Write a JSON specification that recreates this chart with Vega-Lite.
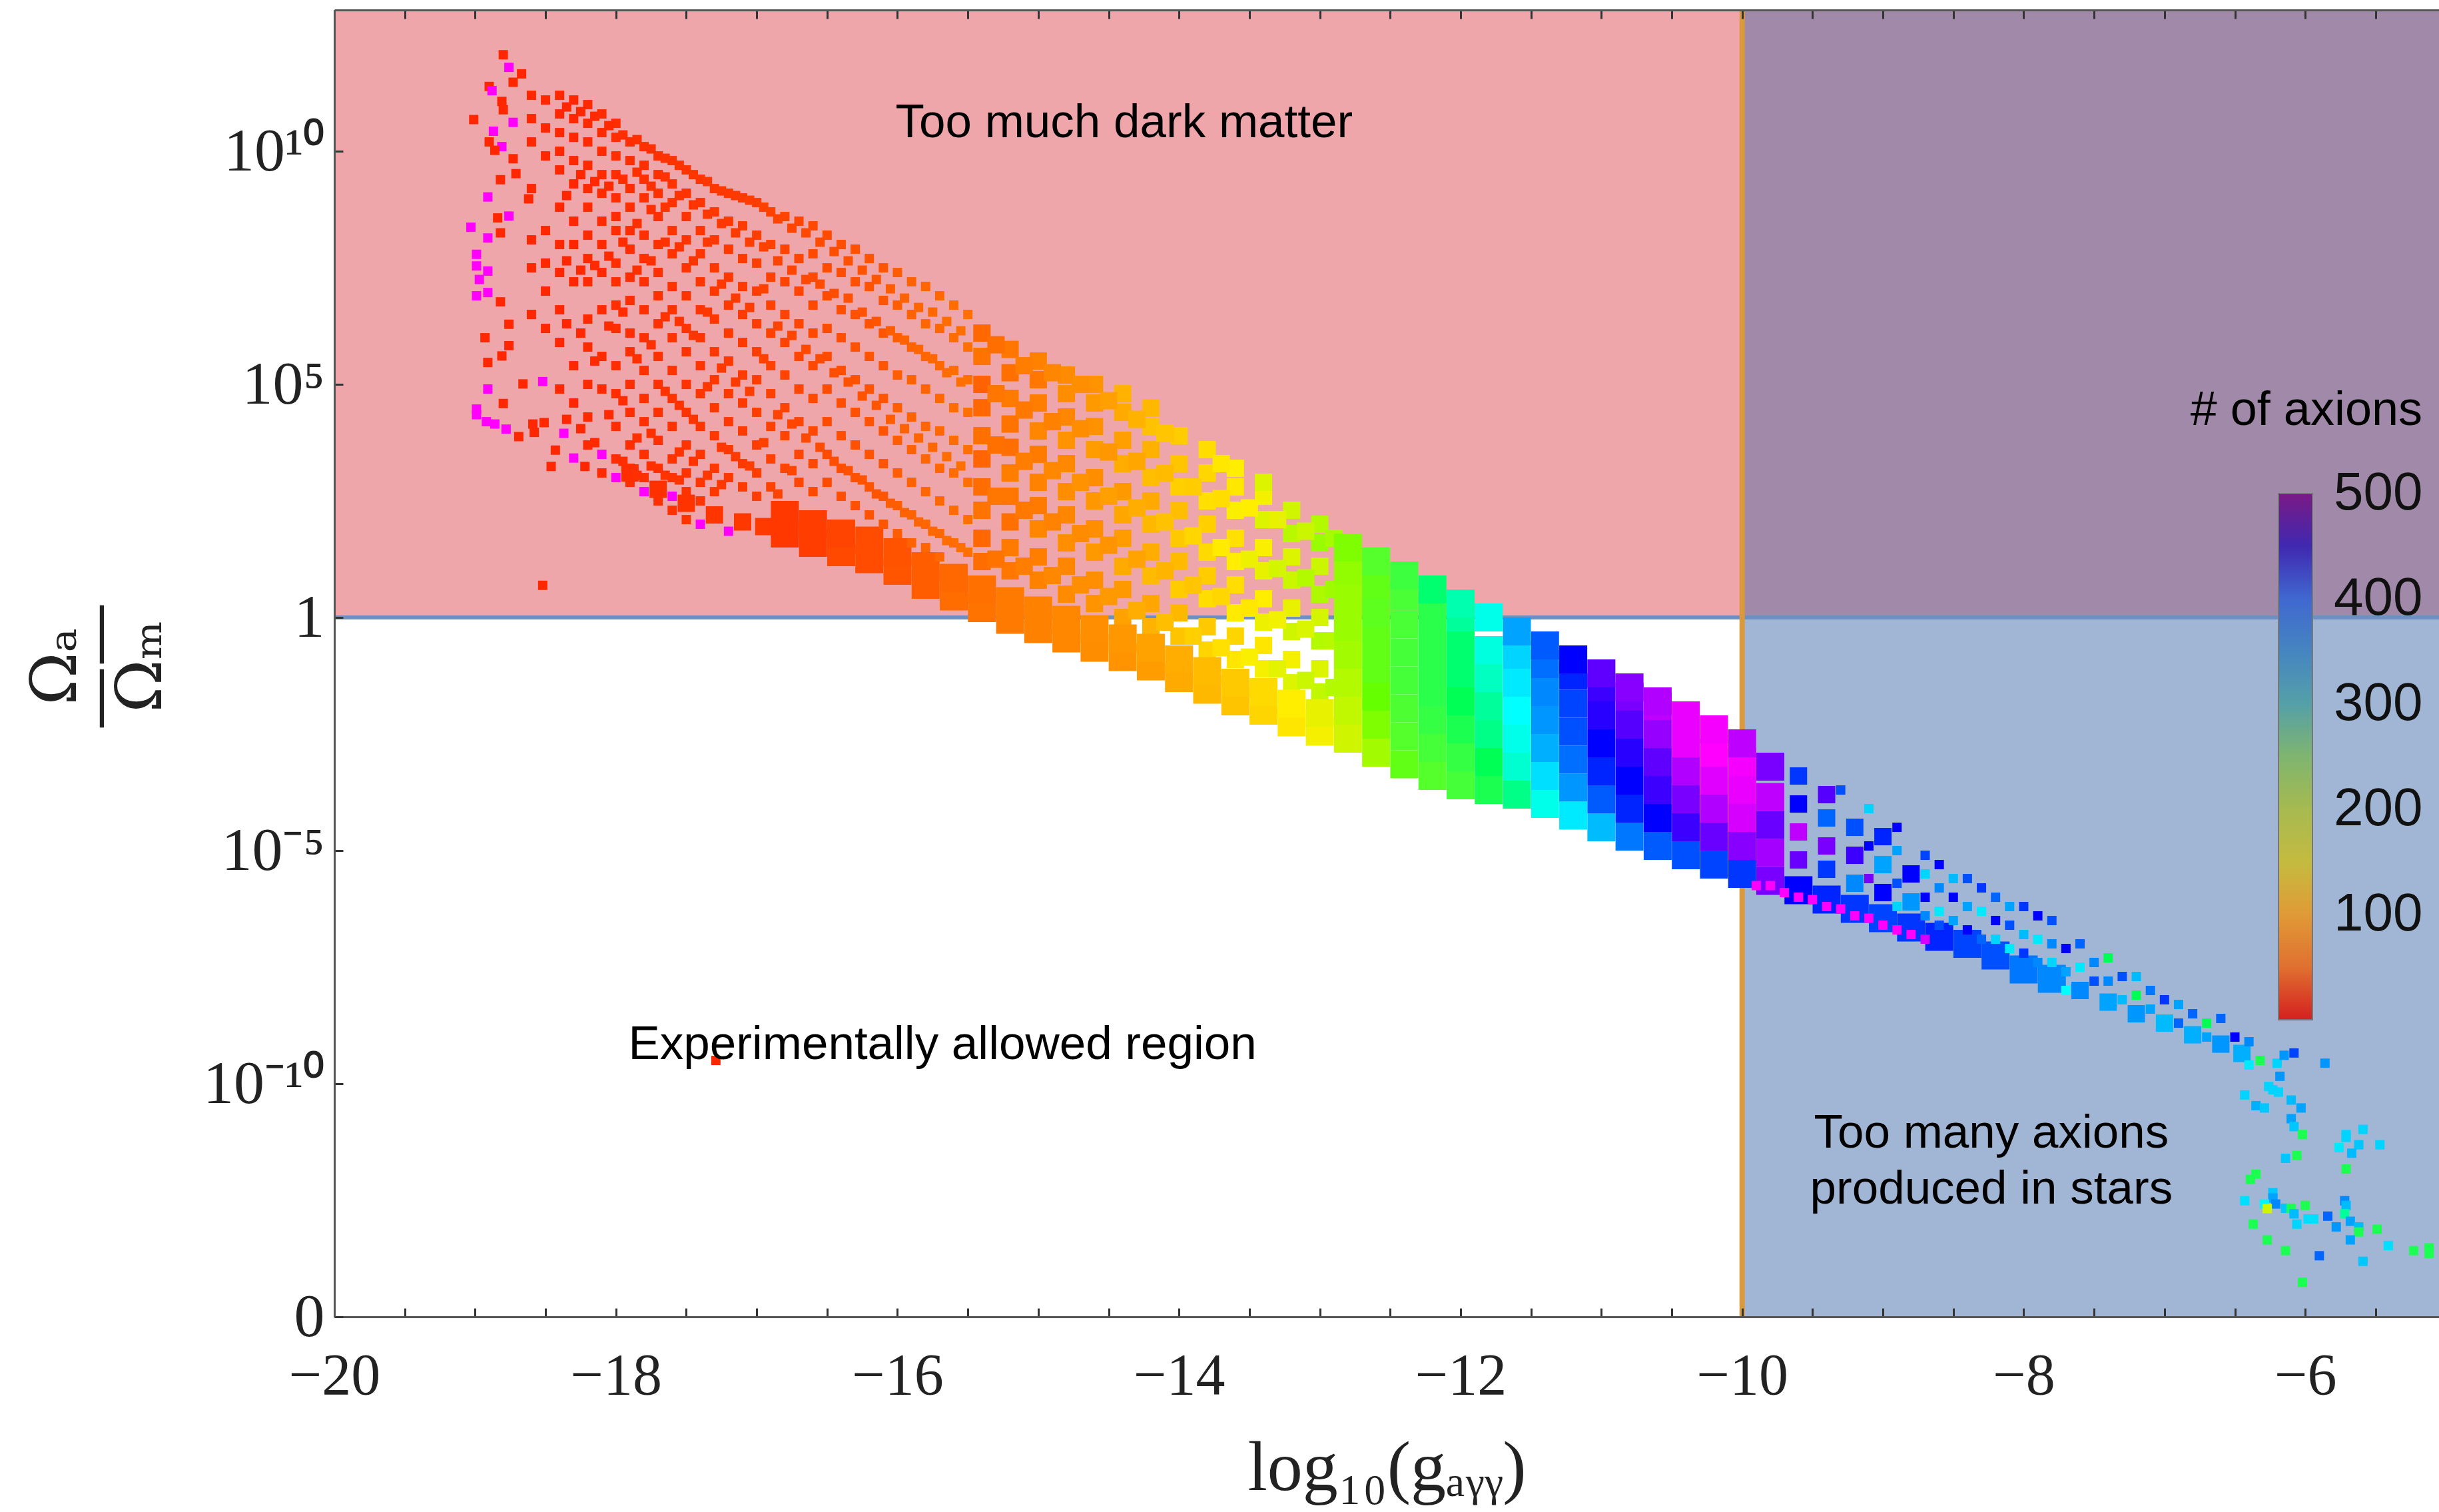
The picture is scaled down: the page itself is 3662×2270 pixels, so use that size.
{"$schema":"https://vega.github.io/schema/vega-lite/v6.json","width":3160,"height":1962,"autosize":"none","padding":{"left":502,"top":15,"right":0,"bottom":293},"background":"white",
"datasets":{
"pink":[{"x":-20,"x2":-5.05,"y":0,"y2":13.03}],
"blue":[{"x":-10,"x2":-5.05,"y":-15,"y2":0}],
"purple":[{"x":-10,"x2":-5.05,"y":0,"y2":13.03}],
"hline":[{"y":0}],"vline":[{"x":-10}],
"notes":[{"x":-14.39,"y":10.6,"t":"Too much dark matter"},{"x":-15.68,"y":-9.17,"t":"Experimentally allowed region"},{"x":-8.23,"y":-11.07,"t":"Too many axions"},{"x":-8.23,"y":-12.27,"t":"produced in stars"}],
"big":[
{"x":-16.8,"y":1.8,"n":20},{"x":-16.8,"y":2.2,"n":20},{"x":-16.6,"y":1.6,"n":25},{"x":-16.6,"y":2,"n":25},{"x":-16.4,"y":1.4,"n":35},{"x":-16.4,"y":1.8,"n":30},{"x":-16.2,"y":1.25,"n":40},{"x":-16.2,"y":1.65,"n":40},{"x":-16,"y":1,"n":50},{"x":-16,"y":1.4,"n":48},{"x":-15.8,"y":0.7,"n":55},{"x":-15.8,"y":1.1,"n":55},{"x":-15.6,"y":0.45,"n":65},{"x":-15.6,"y":0.85,"n":62},{"x":-15.4,"y":0.2,"n":70},{"x":-15.4,"y":0.6,"n":68},{"x":-15.2,"y":-0.05,"n":75},{"x":-15.2,"y":0.35,"n":75},{"x":-15,"y":-0.25,"n":80},{"x":-15,"y":0.15,"n":80},{"x":-14.8,"y":-0.45,"n":85},{"x":-14.8,"y":-0.05,"n":85},{"x":-14.6,"y":-0.65,"n":90},{"x":-14.6,"y":-0.25,"n":92},{"x":-14.4,"y":-0.85,"n":95},{"x":-14.4,"y":-0.45,"n":98},{"x":-14.2,"y":-1.05,"n":102},{"x":-14.2,"y":-0.65,"n":105},{"x":-14,"y":-1.3,"n":110},{"x":-14,"y":-0.9,"n":112},{"x":-13.8,"y":-1.55,"n":118},{"x":-13.8,"y":-1.15,"n":120},{"x":-13.6,"y":-1.8,"n":125},{"x":-13.6,"y":-1.4,"n":128},{"x":-13.4,"y":-2,"n":135},{"x":-13.4,"y":-1.6,"n":138},{"x":-13.2,"y":-2.25,"n":145},{"x":-13.2,"y":-1.85,"n":150},{"x":-13,"y":-2.45,"n":155},{"x":-13,"y":-2.05,"n":160},
{"x":-12.8,"y":-2.6,"n":170},{"x":-12.8,"y":-2,"n":175},{"x":-12.8,"y":-1.4,"n":180},{"x":-12.8,"y":-0.8,"n":185},{"x":-12.8,"y":-0.2,"n":188},{"x":-12.8,"y":0.4,"n":188},{"x":-12.8,"y":1,"n":190},{"x":-12.8,"y":1.5,"n":195},
{"x":-12.6,"y":-2.9,"n":185},{"x":-12.6,"y":-2.3,"n":195},{"x":-12.6,"y":-1.7,"n":200},{"x":-12.6,"y":-1.1,"n":205},{"x":-12.6,"y":-0.5,"n":205},{"x":-12.6,"y":0.1,"n":208},{"x":-12.6,"y":0.7,"n":205},{"x":-12.6,"y":1.2,"n":215},
{"x":-12.4,"y":-3.15,"n":205},{"x":-12.4,"y":-2.55,"n":215},{"x":-12.4,"y":-1.95,"n":220},{"x":-12.4,"y":-1.35,"n":225},{"x":-12.4,"y":-0.75,"n":225},{"x":-12.4,"y":-0.15,"n":222},{"x":-12.4,"y":0.45,"n":222},{"x":-12.4,"y":0.9,"n":230},
{"x":-12.2,"y":-3.4,"n":215},{"x":-12.2,"y":-2.8,"n":225},{"x":-12.2,"y":-2.2,"n":235},{"x":-12.2,"y":-1.6,"n":240},{"x":-12.2,"y":-1,"n":240},{"x":-12.2,"y":-0.4,"n":240},{"x":-12.2,"y":0.2,"n":240},{"x":-12.2,"y":0.6,"n":255},
{"x":-12,"y":-3.6,"n":225},{"x":-12,"y":-3,"n":235},{"x":-12,"y":-2.4,"n":245},{"x":-12,"y":-1.8,"n":250},{"x":-12,"y":-1.2,"n":255},{"x":-12,"y":-0.6,"n":255},{"x":-12,"y":0,"n":265},{"x":-12,"y":0.3,"n":270},
{"x":-11.8,"y":-3.7,"n":245},{"x":-11.8,"y":-3.1,"n":250},{"x":-11.8,"y":-2.5,"n":260},{"x":-11.8,"y":-1.9,"n":265},{"x":-11.8,"y":-1.3,"n":275},{"x":-11.8,"y":-0.7,"n":285},{"x":-11.8,"y":0,"n":290},
{"x":-11.6,"y":-3.8,"n":260},{"x":-11.6,"y":-3.2,"n":280},{"x":-11.6,"y":-2.6,"n":290},{"x":-11.6,"y":-2,"n":300},{"x":-11.6,"y":-1.4,"n":310},{"x":-11.6,"y":-0.8,"n":320},{"x":-11.6,"y":-0.3,"n":340},
{"x":-11.4,"y":-4,"n":290},{"x":-11.4,"y":-3.4,"n":315},{"x":-11.4,"y":-2.8,"n":335},{"x":-11.4,"y":-2.2,"n":345},{"x":-11.4,"y":-1.6,"n":350},{"x":-11.4,"y":-1,"n":365},{"x":-11.4,"y":-0.6,"n":375},
{"x":-11.2,"y":-4.25,"n":310},{"x":-11.2,"y":-3.65,"n":345},{"x":-11.2,"y":-3.05,"n":365},{"x":-11.2,"y":-2.45,"n":380},{"x":-11.2,"y":-1.85,"n":385},{"x":-11.2,"y":-1.25,"n":395},{"x":-11.2,"y":-0.9,"n":400},
{"x":-11,"y":-4.5,"n":330},{"x":-11,"y":-3.9,"n":375},{"x":-11,"y":-3.3,"n":395},{"x":-11,"y":-2.7,"n":400},{"x":-11,"y":-2.1,"n":405},{"x":-11,"y":-1.5,"n":410},{"x":-11,"y":-1.2,"n":425},
{"x":-10.8,"y":-4.7,"n":360},{"x":-10.8,"y":-4.1,"n":395},{"x":-10.8,"y":-3.5,"n":400},{"x":-10.8,"y":-2.9,"n":405},{"x":-10.8,"y":-2.3,"n":420},{"x":-10.8,"y":-1.7,"n":440},{"x":-10.8,"y":-1.5,"n":450},
{"x":-10.6,"y":-4.9,"n":375},{"x":-10.6,"y":-4.3,"n":400},{"x":-10.6,"y":-3.7,"n":410},{"x":-10.6,"y":-3.1,"n":425},{"x":-10.6,"y":-2.5,"n":455},{"x":-10.6,"y":-1.9,"n":470},{"x":-10.6,"y":-1.8,"n":465},
{"x":-10.4,"y":-5.1,"n":380},{"x":-10.4,"y":-4.5,"n":410},{"x":-10.4,"y":-3.9,"n":440},{"x":-10.4,"y":-3.3,"n":465},{"x":-10.4,"y":-2.7,"n":490},{"x":-10.4,"y":-2.1,"n":490},
{"x":-10.2,"y":-5.3,"n":385},{"x":-10.2,"y":-4.7,"n":430},{"x":-10.2,"y":-4.1,"n":465},{"x":-10.2,"y":-3.5,"n":485},{"x":-10.2,"y":-2.9,"n":500},{"x":-10.2,"y":-2.4,"n":495},
{"x":-10,"y":-5.5,"n":390},{"x":-10,"y":-4.9,"n":450},{"x":-10,"y":-4.3,"n":480},{"x":-10,"y":-3.7,"n":490},{"x":-10,"y":-3.1,"n":495},{"x":-10,"y":-2.7,"n":470},
{"x":-9.8,"y":-5.65,"n":440},{"x":-9.8,"y":-5.05,"n":460},{"x":-9.8,"y":-4.45,"n":430},{"x":-9.8,"y":-3.85,"n":470},{"x":-9.8,"y":-3.2,"n":440},
{"x":-9.6,"y":-5.85,"n":400},{"x":-9.4,"y":-6.05,"n":395},{"x":-9.2,"y":-6.25,"n":390},{"x":-9,"y":-6.45,"n":385},{"x":-8.8,"y":-6.65,"n":390},{"x":-8.6,"y":-6.85,"n":395},{"x":-8.4,"y":-7,"n":385},{"x":-8.2,"y":-7.25,"n":380},{"x":-8,"y":-7.55,"n":360},{"x":-7.8,"y":-7.75,"n":350}],
"mid":[
{"x":-15.4,"y":1.2,"n":65},{"x":-15.4,"y":1.7,"n":62},{"x":-15.4,"y":2.3,"n":70},{"x":-15.4,"y":2.8,"n":65},{"x":-15.4,"y":3.4,"n":60},{"x":-15.4,"y":3.9,"n":68},{"x":-15.4,"y":4.5,"n":62},{"x":-15.4,"y":5,"n":58},{"x":-15.4,"y":5.6,"n":70},{"x":-15.4,"y":6.1,"n":62},
{"x":-15.2,"y":1,"n":72},{"x":-15.2,"y":1.5,"n":75},{"x":-15.2,"y":2.05,"n":68},{"x":-15.2,"y":2.6,"n":72},{"x":-15.2,"y":3.1,"n":78},{"x":-15.2,"y":3.65,"n":66},{"x":-15.2,"y":4.15,"n":70},{"x":-15.2,"y":4.7,"n":76},{"x":-15.2,"y":5.25,"n":68},{"x":-15.2,"y":5.75,"n":72},
{"x":-15,"y":0.8,"n":80},{"x":-15,"y":1.3,"n":78},{"x":-15,"y":1.9,"n":84},{"x":-15,"y":2.4,"n":75},{"x":-15,"y":2.9,"n":82},{"x":-15,"y":3.5,"n":76},{"x":-15,"y":4,"n":84},{"x":-15,"y":4.6,"n":78},{"x":-15,"y":5.1,"n":72},{"x":-15,"y":5.5,"n":80},
{"x":-14.8,"y":0.5,"n":88},{"x":-14.8,"y":1.1,"n":85},{"x":-14.8,"y":1.6,"n":92},{"x":-14.8,"y":2.2,"n":84},{"x":-14.8,"y":2.7,"n":90},{"x":-14.8,"y":3.3,"n":86},{"x":-14.8,"y":3.8,"n":95},{"x":-14.8,"y":4.3,"n":84},{"x":-14.8,"y":4.8,"n":90},{"x":-14.8,"y":5.2,"n":88},
{"x":-14.6,"y":0.3,"n":95},{"x":-14.6,"y":0.8,"n":92},{"x":-14.6,"y":1.4,"n":100},{"x":-14.6,"y":1.9,"n":92},{"x":-14.6,"y":2.5,"n":98},{"x":-14.6,"y":3,"n":90},{"x":-14.6,"y":3.6,"n":102},{"x":-14.6,"y":4.1,"n":94},{"x":-14.6,"y":4.6,"n":100},{"x":-14.6,"y":5,"n":96},
{"x":-14.4,"y":0,"n":105},{"x":-14.4,"y":0.6,"n":100},{"x":-14.4,"y":1.1,"n":110},{"x":-14.4,"y":1.7,"n":102},{"x":-14.4,"y":2.2,"n":108},{"x":-14.4,"y":2.7,"n":100},{"x":-14.4,"y":3.3,"n":112},{"x":-14.4,"y":3.8,"n":104},{"x":-14.4,"y":4.4,"n":110},{"x":-14.4,"y":4.8,"n":115},
{"x":-14.2,"y":-0.2,"n":115},{"x":-14.2,"y":0.3,"n":108},{"x":-14.2,"y":0.9,"n":120},{"x":-14.2,"y":1.4,"n":112},{"x":-14.2,"y":2,"n":118},{"x":-14.2,"y":2.5,"n":110},{"x":-14.2,"y":3,"n":122},{"x":-14.2,"y":3.6,"n":114},{"x":-14.2,"y":4.1,"n":124},{"x":-14.2,"y":4.5,"n":118},
{"x":-14,"y":-0.4,"n":125},{"x":-14,"y":0.1,"n":118},{"x":-14,"y":0.6,"n":130},{"x":-14,"y":1.2,"n":120},{"x":-14,"y":1.7,"n":128},{"x":-14,"y":2.3,"n":122},{"x":-14,"y":2.8,"n":132},{"x":-14,"y":3.3,"n":126},{"x":-14,"y":3.9,"n":130},
{"x":-13.8,"y":-0.7,"n":135},{"x":-13.8,"y":-0.2,"n":128},{"x":-13.8,"y":0.4,"n":140},{"x":-13.8,"y":0.9,"n":130},{"x":-13.8,"y":1.4,"n":138},{"x":-13.8,"y":2,"n":132},{"x":-13.8,"y":2.5,"n":142},{"x":-13.8,"y":3.1,"n":136},{"x":-13.8,"y":3.6,"n":140},
{"x":-13.6,"y":-0.9,"n":145},{"x":-13.6,"y":-0.4,"n":135},{"x":-13.6,"y":0.1,"n":148},{"x":-13.6,"y":0.7,"n":140},{"x":-13.6,"y":1.2,"n":150},{"x":-13.6,"y":1.7,"n":142},{"x":-13.6,"y":2.3,"n":152},{"x":-13.6,"y":2.8,"n":146},{"x":-13.6,"y":3.2,"n":150},
{"x":-13.4,"y":-1.1,"n":155},{"x":-13.4,"y":-0.6,"n":145},{"x":-13.4,"y":-0.1,"n":158},{"x":-13.4,"y":0.4,"n":150},{"x":-13.4,"y":1,"n":160},{"x":-13.4,"y":1.5,"n":152},{"x":-13.4,"y":2.1,"n":165},{"x":-13.4,"y":2.6,"n":155},{"x":-13.4,"y":2.9,"n":165},
{"x":-13.2,"y":-1.4,"n":165},{"x":-13.2,"y":-0.9,"n":155},{"x":-13.2,"y":-0.3,"n":170},{"x":-13.2,"y":0.2,"n":160},{"x":-13.2,"y":0.8,"n":172},{"x":-13.2,"y":1.3,"n":165},{"x":-13.2,"y":1.8,"n":178},{"x":-13.2,"y":2.3,"n":170},
{"x":-13,"y":-1.6,"n":175},{"x":-13,"y":-1.1,"n":165},{"x":-13,"y":-0.5,"n":180},{"x":-13,"y":0,"n":168},{"x":-13,"y":0.5,"n":182},{"x":-13,"y":1.1,"n":172},{"x":-13,"y":1.6,"n":188},{"x":-13,"y":2,"n":180},
{"x":-15.3,"y":1.25,"n":70},{"x":-15.3,"y":2.6,"n":72},{"x":-15.3,"y":3.7,"n":68},{"x":-15.3,"y":4.8,"n":72},{"x":-15.3,"y":5.85,"n":66},{"x":-15.1,"y":1.1,"n":78},{"x":-15.1,"y":2.3,"n":74},{"x":-15.1,"y":3.35,"n":78},{"x":-15.1,"y":4.45,"n":74},{"x":-15.1,"y":5.4,"n":78},{"x":-14.9,"y":0.9,"n":86},{"x":-14.9,"y":2.05,"n":82},{"x":-14.9,"y":3.15,"n":86},{"x":-14.9,"y":4.2,"n":80},{"x":-14.9,"y":5.25,"n":84},{"x":-14.7,"y":0.7,"n":92},{"x":-14.7,"y":1.8,"n":88},{"x":-14.7,"y":2.9,"n":94},{"x":-14.7,"y":4.05,"n":90},{"x":-14.7,"y":5,"n":92},
{"x":-14.5,"y":0.45,"n":100},{"x":-14.5,"y":1.55,"n":96},{"x":-14.5,"y":2.6,"n":104},{"x":-14.5,"y":3.55,"n":98},{"x":-14.5,"y":4.65,"n":104},{"x":-14.3,"y":0.15,"n":112},{"x":-14.3,"y":1.25,"n":106},{"x":-14.3,"y":2.35,"n":112},{"x":-14.3,"y":3.35,"n":108},{"x":-14.3,"y":4.25,"n":115},{"x":-14.1,"y":-0.1,"n":122},{"x":-14.1,"y":1,"n":116},{"x":-14.1,"y":2.05,"n":124},{"x":-14.1,"y":3.1,"n":120},{"x":-14.1,"y":3.95,"n":126},
{"x":-13.9,"y":-0.4,"n":132},{"x":-13.9,"y":0.7,"n":126},{"x":-13.9,"y":1.75,"n":136},{"x":-13.9,"y":2.8,"n":130},{"x":-13.7,"y":-0.65,"n":142},{"x":-13.7,"y":0.45,"n":136},{"x":-13.7,"y":1.5,"n":148},{"x":-13.7,"y":2.55,"n":140},{"x":-13.7,"y":3.3,"n":146},{"x":-13.5,"y":-0.85,"n":152},{"x":-13.5,"y":0.2,"n":146},{"x":-13.5,"y":1.25,"n":158},{"x":-13.5,"y":2.35,"n":150},{"x":-13.3,"y":-1.1,"n":162},{"x":-13.3,"y":-0.05,"n":156},{"x":-13.3,"y":1.05,"n":168},{"x":-13.3,"y":2.1,"n":160},{"x":-13.1,"y":-1.35,"n":172},{"x":-13.1,"y":-0.25,"n":166},{"x":-13.1,"y":0.85,"n":180},{"x":-13.1,"y":1.85,"n":172},{"x":-12.9,"y":-1.5,"n":180},{"x":-12.9,"y":-0.5,"n":178},{"x":-12.9,"y":0.6,"n":186},{"x":-12.9,"y":1.7,"n":184},
{"x":-17.9,"y":3.1,"n":12},{"x":-17.7,"y":2.75,"n":14},{"x":-17.5,"y":2.45,"n":16},{"x":-17.3,"y":2.2,"n":18},{"x":-17.1,"y":2.05,"n":20},{"x":-16.95,"y":1.95,"n":22},
{"x":-7.6,"y":-8,"n":350},{"x":-7.4,"y":-8.25,"n":340},{"x":-7.2,"y":-8.5,"n":345},{"x":-7,"y":-8.7,"n":330},{"x":-6.8,"y":-8.95,"n":335},{"x":-6.6,"y":-9.15,"n":345},{"x":-6.45,"y":-9.35,"n":335},
{"x":-9.6,"y":-5.2,"n":430},{"x":-9.6,"y":-4.6,"n":470},{"x":-9.6,"y":-4,"n":400},{"x":-9.6,"y":-3.4,"n":390},
{"x":-9.4,"y":-5.4,"n":390},{"x":-9.4,"y":-4.9,"n":440},{"x":-9.4,"y":-4.3,"n":370},{"x":-9.4,"y":-3.8,"n":420},
{"x":-9.2,"y":-5.7,"n":350},{"x":-9.2,"y":-5.1,"n":410},{"x":-9.2,"y":-4.5,"n":380},
{"x":-9,"y":-5.9,"n":400},{"x":-9,"y":-5.3,"n":340},{"x":-9,"y":-4.7,"n":395},
{"x":-8.8,"y":-6.1,"n":345},{"x":-8.8,"y":-5.5,"n":400}],
"dot":[
{"x":-18.8,"y":12.07,"n":8},{"x":-18.76,"y":11.8,"n":500},{"x":-18.67,"y":11.66,"n":8},{"x":-18.73,"y":11.48,"n":8},{"x":-18.9,"y":11.39,"n":8},{"x":-18.88,"y":11.3,"n":500},{"x":-19.01,"y":10.68,"n":8},{"x":-18.81,"y":11.07,"n":8},{"x":-18.8,"y":10.89,"n":8},{"x":-18.73,"y":10.62,"n":500},{"x":-18.87,"y":10.43,"n":500},{"x":-18.9,"y":10.2,"n":8},{"x":-18.81,"y":10.1,"n":500},{"x":-18.86,"y":10.02,"n":8},{"x":-18.73,"y":9.84,"n":8},{"x":-18.71,"y":9.52,"n":8},{"x":-18.82,"y":9.39,"n":8},{"x":-18.91,"y":9.02,"n":500},{"x":-18.62,"y":8.98,"n":8},{"x":-18.76,"y":8.61,"n":500},{"x":-19.03,"y":8.37,"n":500},{"x":-18.84,"y":8.57,"n":8},{"x":-18.91,"y":8.14,"n":500},{"x":-18.82,"y":8.25,"n":8},{"x":-18.99,"y":7.79,"n":500},{"x":-18.99,"y":7.54,"n":500},{"x":-18.91,"y":7.43,"n":500},{"x":-18.97,"y":7.25,"n":500},{"x":-18.99,"y":6.9,"n":500},{"x":-18.91,"y":6.97,"n":500},{"x":-18.82,"y":6.77,"n":8},{"x":-18.76,"y":6.29,"n":8},{"x":-18.93,"y":6,"n":8},{"x":-18.76,"y":5.83,"n":8},{"x":-18.91,"y":5.47,"n":8},{"x":-18.81,"y":5.61,"n":8},{"x":-18.91,"y":4.9,"n":500},{"x":-18.66,"y":5.01,"n":8},{"x":-18.52,"y":5.06,"n":500},{"x":-18.99,"y":4.47,"n":500},{"x":-18.99,"y":4.35,"n":500},{"x":-18.92,"y":4.2,"n":500},{"x":-18.86,"y":4.15,"n":500},{"x":-18.78,"y":4.04,"n":500},{"x":-18.8,"y":4.59,"n":8},{"x":-18.69,"y":3.88,"n":8},{"x":-18.58,"y":3.97,"n":8},{"x":-18.59,"y":4.15,"n":8},{"x":-18.51,"y":4.18,"n":8},{"x":-18.43,"y":3.59,"n":8},{"x":-18.46,"y":3.24,"n":8},{"x":-18.52,"y":0.69,"n":8},{"x":-18.3,"y":3.42,"n":500},{"x":-18.22,"y":3.24,"n":8},{"x":-18.37,"y":3.95,"n":500},{"x":-17.29,"y":-9.5,"n":8},
{"x":-18.6,"y":11.2,"n":8},{"x":-18.6,"y":10.7,"n":8},{"x":-18.6,"y":10.2,"n":8},{"x":-18.6,"y":9.2,"n":8},{"x":-18.6,"y":8.1,"n":8},{"x":-18.6,"y":7.5,"n":8},{"x":-18.6,"y":6.5,"n":8},{"x":-18.5,"y":11.1,"n":8},{"x":-18.5,"y":10.5,"n":8},{"x":-18.5,"y":9.9,"n":8},{"x":-18.5,"y":8.3,"n":8},{"x":-18.5,"y":7.6,"n":8},{"x":-18.5,"y":7,"n":8},{"x":-18.5,"y":6.2,"n":8},
{"x":-18.4,"y":11.2,"n":8},{"x":-18.4,"y":10.8,"n":8},{"x":-18.4,"y":10.4,"n":8},{"x":-18.4,"y":10,"n":8},{"x":-18.4,"y":9.6,"n":8},{"x":-18.4,"y":8.8,"n":8},{"x":-18.4,"y":8,"n":8},{"x":-18.4,"y":7.4,"n":8},{"x":-18.4,"y":6.6,"n":8},{"x":-18.4,"y":5.9,"n":8},{"x":-18.4,"y":4.9,"n":8},
{"x":-18.3,"y":11.1,"n":8},{"x":-18.3,"y":10.7,"n":8},{"x":-18.3,"y":10.3,"n":8},{"x":-18.3,"y":9.8,"n":8},{"x":-18.3,"y":9.3,"n":8},{"x":-18.3,"y":8.5,"n":8},{"x":-18.3,"y":8,"n":8},{"x":-18.3,"y":7.2,"n":8},{"x":-18.3,"y":5.4,"n":8},{"x":-18.3,"y":4.6,"n":8},
{"x":-18.2,"y":11,"n":10},{"x":-18.2,"y":10.6,"n":10},{"x":-18.2,"y":10.2,"n":10},{"x":-18.2,"y":9.7,"n":10},{"x":-18.2,"y":9.2,"n":10},{"x":-18.2,"y":8.8,"n":10},{"x":-18.2,"y":8.2,"n":10},{"x":-18.2,"y":7.7,"n":10},{"x":-18.2,"y":7.2,"n":10},{"x":-18.2,"y":6.4,"n":10},{"x":-18.2,"y":5.8,"n":10},{"x":-18.2,"y":5,"n":10},{"x":-18.2,"y":4.3,"n":10},{"x":-18.2,"y":3.7,"n":10},
{"x":-18.1,"y":10.8,"n":10},{"x":-18.1,"y":10.4,"n":10},{"x":-18.1,"y":10,"n":10},{"x":-18.1,"y":9.5,"n":10},{"x":-18.1,"y":9.1,"n":10},{"x":-18.1,"y":8.5,"n":10},{"x":-18.1,"y":8,"n":10},{"x":-18.1,"y":7.4,"n":10},{"x":-18.1,"y":6.6,"n":10},{"x":-18.1,"y":5.6,"n":10},{"x":-18.1,"y":4.9,"n":10},{"x":-18.1,"y":3.5,"n":500},{"x":-18.1,"y":3.1,"n":10},
{"x":-18,"y":10.6,"n":12},{"x":-18,"y":10.3,"n":12},{"x":-18,"y":9.9,"n":12},{"x":-18,"y":9.5,"n":12},{"x":-18,"y":9,"n":12},{"x":-18,"y":8.6,"n":12},{"x":-18,"y":8.3,"n":12},{"x":-18,"y":7.6,"n":12},{"x":-18,"y":7.2,"n":12},{"x":-18,"y":6.7,"n":12},{"x":-18,"y":6.2,"n":12},{"x":-18,"y":5.4,"n":12},{"x":-18,"y":4.8,"n":12},{"x":-18,"y":4.1,"n":12},{"x":-18,"y":3.4,"n":12},{"x":-18,"y":3,"n":500},
{"x":-17.9,"y":10.2,"n":12},{"x":-17.9,"y":9.8,"n":12},{"x":-17.9,"y":9.2,"n":12},{"x":-17.9,"y":8.8,"n":12},{"x":-17.9,"y":8.3,"n":12},{"x":-17.9,"y":7.9,"n":12},{"x":-17.9,"y":7.3,"n":12},{"x":-17.9,"y":6.8,"n":12},{"x":-17.9,"y":6.1,"n":12},{"x":-17.9,"y":5.7,"n":12},{"x":-17.9,"y":5,"n":12},{"x":-17.9,"y":4.4,"n":12},{"x":-17.9,"y":3.7,"n":12},{"x":-17.9,"y":3.2,"n":12},{"x":-17.9,"y":2.9,"n":12},
{"x":-17.8,"y":10.1,"n":14},{"x":-17.8,"y":9.7,"n":14},{"x":-17.8,"y":9.4,"n":14},{"x":-17.8,"y":9,"n":14},{"x":-17.8,"y":8.2,"n":14},{"x":-17.8,"y":7.7,"n":14},{"x":-17.8,"y":7.2,"n":14},{"x":-17.8,"y":6.6,"n":14},{"x":-17.8,"y":6,"n":14},{"x":-17.8,"y":5.3,"n":14},{"x":-17.8,"y":4.7,"n":14},{"x":-17.8,"y":4.2,"n":14},{"x":-17.8,"y":3.5,"n":14},{"x":-17.8,"y":3,"n":14},{"x":-17.8,"y":2.7,"n":500},
{"x":-17.7,"y":9.9,"n":14},{"x":-17.7,"y":9.5,"n":14},{"x":-17.7,"y":9.1,"n":14},{"x":-17.7,"y":8.6,"n":14},{"x":-17.7,"y":8,"n":14},{"x":-17.7,"y":7.4,"n":14},{"x":-17.7,"y":6.9,"n":14},{"x":-17.7,"y":6.3,"n":14},{"x":-17.7,"y":5.6,"n":14},{"x":-17.7,"y":5,"n":14},{"x":-17.7,"y":4.4,"n":14},{"x":-17.7,"y":3.8,"n":14},{"x":-17.7,"y":3.2,"n":14},{"x":-17.7,"y":2.8,"n":14},{"x":-17.7,"y":2.5,"n":14},
{"x":-17.6,"y":9.8,"n":16},{"x":-17.6,"y":9.3,"n":16},{"x":-17.6,"y":8.9,"n":16},{"x":-17.6,"y":8.3,"n":16},{"x":-17.6,"y":7.8,"n":16},{"x":-17.6,"y":7.1,"n":16},{"x":-17.6,"y":6.6,"n":16},{"x":-17.6,"y":6,"n":16},{"x":-17.6,"y":5.3,"n":16},{"x":-17.6,"y":4.7,"n":16},{"x":-17.6,"y":4.1,"n":16},{"x":-17.6,"y":3.4,"n":16},{"x":-17.6,"y":3,"n":16},{"x":-17.6,"y":2.6,"n":500},{"x":-17.6,"y":2.3,"n":16},
{"x":-17.5,"y":9.6,"n":16},{"x":-17.5,"y":9.1,"n":16},{"x":-17.5,"y":8.6,"n":16},{"x":-17.5,"y":8.1,"n":16},{"x":-17.5,"y":7.5,"n":16},{"x":-17.5,"y":6.9,"n":16},{"x":-17.5,"y":6.2,"n":16},{"x":-17.5,"y":5.7,"n":16},{"x":-17.5,"y":5,"n":16},{"x":-17.5,"y":4.4,"n":16},{"x":-17.5,"y":3.7,"n":16},{"x":-17.5,"y":3.1,"n":16},{"x":-17.5,"y":2.7,"n":16},{"x":-17.5,"y":2.1,"n":16},
{"x":-17.4,"y":9.4,"n":18},{"x":-17.4,"y":8.9,"n":18},{"x":-17.4,"y":8.3,"n":18},{"x":-17.4,"y":7.8,"n":18},{"x":-17.4,"y":7.2,"n":18},{"x":-17.4,"y":6.6,"n":18},{"x":-17.4,"y":6,"n":18},{"x":-17.4,"y":5.4,"n":18},{"x":-17.4,"y":4.8,"n":18},{"x":-17.4,"y":4.1,"n":18},{"x":-17.4,"y":3.5,"n":18},{"x":-17.4,"y":2.9,"n":18},{"x":-17.4,"y":2.5,"n":18},{"x":-17.4,"y":2,"n":500},
{"x":-17.3,"y":9.2,"n":20},{"x":-17.3,"y":8.7,"n":20},{"x":-17.3,"y":8.1,"n":20},{"x":-17.3,"y":7.5,"n":20},{"x":-17.3,"y":7,"n":20},{"x":-17.3,"y":6.4,"n":20},{"x":-17.3,"y":5.7,"n":20},{"x":-17.3,"y":5.1,"n":20},{"x":-17.3,"y":4.5,"n":20},{"x":-17.3,"y":3.9,"n":20},{"x":-17.3,"y":3.2,"n":20},{"x":-17.3,"y":2.7,"n":20},
{"x":-17.2,"y":9.1,"n":20},{"x":-17.2,"y":8.5,"n":20},{"x":-17.2,"y":7.9,"n":20},{"x":-17.2,"y":7.3,"n":20},{"x":-17.2,"y":6.7,"n":20},{"x":-17.2,"y":6.1,"n":20},{"x":-17.2,"y":5.5,"n":20},{"x":-17.2,"y":4.8,"n":20},{"x":-17.2,"y":4.2,"n":20},{"x":-17.2,"y":3.6,"n":20},{"x":-17.2,"y":3,"n":20},{"x":-17.2,"y":1.85,"n":500},
{"x":-17.1,"y":9,"n":22},{"x":-17.1,"y":8.4,"n":22},{"x":-17.1,"y":7.7,"n":22},{"x":-17.1,"y":7.1,"n":22},{"x":-17.1,"y":6.5,"n":22},{"x":-17.1,"y":5.9,"n":22},{"x":-17.1,"y":5.2,"n":22},{"x":-17.1,"y":4.6,"n":22},{"x":-17.1,"y":4,"n":22},{"x":-17.1,"y":3.3,"n":22},{"x":-17.1,"y":2.8,"n":22},
{"x":-17,"y":8.9,"n":25},{"x":-17,"y":8.2,"n":25},{"x":-17,"y":7.6,"n":25},{"x":-17,"y":7,"n":25},{"x":-17,"y":6.3,"n":25},{"x":-17,"y":5.7,"n":25},{"x":-17,"y":5.1,"n":25},{"x":-17,"y":4.4,"n":25},{"x":-17,"y":3.7,"n":25},{"x":-17,"y":3.1,"n":25},{"x":-17,"y":2.6,"n":25},
{"x":-16.9,"y":8.7,"n":28},{"x":-16.9,"y":8,"n":28},{"x":-16.9,"y":7.3,"n":28},{"x":-16.9,"y":6.7,"n":28},{"x":-16.9,"y":6.1,"n":28},{"x":-16.9,"y":5.4,"n":28},{"x":-16.9,"y":4.8,"n":28},{"x":-16.9,"y":4.1,"n":28},{"x":-16.9,"y":3.4,"n":28},{"x":-16.9,"y":2.8,"n":28},
{"x":-16.8,"y":8.6,"n":30},{"x":-16.8,"y":7.9,"n":30},{"x":-16.8,"y":7.2,"n":30},{"x":-16.8,"y":6.5,"n":30},{"x":-16.8,"y":5.9,"n":30},{"x":-16.8,"y":5.2,"n":30},{"x":-16.8,"y":4.5,"n":30},{"x":-16.8,"y":3.9,"n":30},{"x":-16.8,"y":3.2,"n":30},
{"x":-16.7,"y":8.5,"n":32},{"x":-16.7,"y":7.7,"n":32},{"x":-16.7,"y":7,"n":32},{"x":-16.7,"y":6.3,"n":32},{"x":-16.7,"y":5.6,"n":32},{"x":-16.7,"y":4.9,"n":32},{"x":-16.7,"y":4.2,"n":32},{"x":-16.7,"y":3.5,"n":32},{"x":-16.7,"y":2.9,"n":32},
{"x":-16.6,"y":8.4,"n":35},{"x":-16.6,"y":7.8,"n":35},{"x":-16.6,"y":7.3,"n":35},{"x":-16.6,"y":6.7,"n":35},{"x":-16.6,"y":6.1,"n":35},{"x":-16.6,"y":5.4,"n":35},{"x":-16.6,"y":4.7,"n":35},{"x":-16.6,"y":4,"n":35},{"x":-16.6,"y":3.3,"n":35},{"x":-16.6,"y":2.7,"n":35},
{"x":-16.5,"y":8.2,"n":38},{"x":-16.5,"y":7.5,"n":38},{"x":-16.5,"y":6.9,"n":38},{"x":-16.5,"y":6.2,"n":38},{"x":-16.5,"y":5.6,"n":38},{"x":-16.5,"y":4.9,"n":38},{"x":-16.5,"y":4.2,"n":38},{"x":-16.5,"y":3.5,"n":38},{"x":-16.5,"y":2.9,"n":38},
{"x":-16.4,"y":8,"n":42},{"x":-16.4,"y":7.4,"n":42},{"x":-16.4,"y":6.6,"n":42},{"x":-16.4,"y":6,"n":42},{"x":-16.4,"y":5.3,"n":42},{"x":-16.4,"y":4.6,"n":42},{"x":-16.4,"y":3.9,"n":42},{"x":-16.4,"y":3.2,"n":42},{"x":-16.4,"y":2.6,"n":42},
{"x":-16.3,"y":7.9,"n":45},{"x":-16.3,"y":7.2,"n":45},{"x":-16.3,"y":6.5,"n":45},{"x":-16.3,"y":5.8,"n":45},{"x":-16.3,"y":5.1,"n":45},{"x":-16.3,"y":4.4,"n":45},{"x":-16.3,"y":3.7,"n":45},{"x":-16.3,"y":3,"n":45},{"x":-16.3,"y":2.4,"n":45},
{"x":-16.2,"y":7.7,"n":48},{"x":-16.2,"y":7.1,"n":48},{"x":-16.2,"y":6.3,"n":48},{"x":-16.2,"y":5.6,"n":48},{"x":-16.2,"y":4.9,"n":48},{"x":-16.2,"y":4.2,"n":48},{"x":-16.2,"y":3.5,"n":48},{"x":-16.2,"y":2.8,"n":48},{"x":-16.2,"y":2.2,"n":48},
{"x":-16.1,"y":7.5,"n":50},{"x":-16.1,"y":6.8,"n":50},{"x":-16.1,"y":6.1,"n":50},{"x":-16.1,"y":5.4,"n":50},{"x":-16.1,"y":4.7,"n":50},{"x":-16.1,"y":4,"n":50},{"x":-16.1,"y":3.3,"n":50},{"x":-16.1,"y":2.6,"n":50},{"x":-16.1,"y":2,"n":50},
{"x":-16,"y":7.4,"n":55},{"x":-16,"y":6.7,"n":55},{"x":-16,"y":6,"n":55},{"x":-16,"y":5.2,"n":55},{"x":-16,"y":4.5,"n":55},{"x":-16,"y":3.8,"n":55},{"x":-16,"y":3.1,"n":55},{"x":-16,"y":2.4,"n":55},{"x":-16,"y":1.8,"n":55},
{"x":-15.9,"y":7.2,"n":58},{"x":-15.9,"y":6.5,"n":58},{"x":-15.9,"y":5.8,"n":58},{"x":-15.9,"y":5.1,"n":58},{"x":-15.9,"y":4.3,"n":58},{"x":-15.9,"y":3.6,"n":58},{"x":-15.9,"y":2.9,"n":58},{"x":-15.9,"y":2.2,"n":58},{"x":-15.9,"y":1.6,"n":58},
{"x":-15.8,"y":7.1,"n":60},{"x":-15.8,"y":6.3,"n":60},{"x":-15.8,"y":5.6,"n":60},{"x":-15.8,"y":4.9,"n":60},{"x":-15.8,"y":4.1,"n":60},{"x":-15.8,"y":3.4,"n":60},{"x":-15.8,"y":2.7,"n":60},{"x":-15.8,"y":2,"n":60},{"x":-15.8,"y":1.5,"n":60},
{"x":-15.7,"y":6.9,"n":62},{"x":-15.7,"y":6.2,"n":62},{"x":-15.7,"y":5.4,"n":62},{"x":-15.7,"y":4.7,"n":62},{"x":-15.7,"y":4,"n":62},{"x":-15.7,"y":3.2,"n":62},{"x":-15.7,"y":2.5,"n":62},{"x":-15.7,"y":1.8,"n":62},{"x":-15.7,"y":1.3,"n":62},
{"x":-15.6,"y":6.7,"n":65},{"x":-15.6,"y":6,"n":65},{"x":-15.6,"y":5.3,"n":65},{"x":-15.6,"y":4.5,"n":65},{"x":-15.6,"y":3.8,"n":65},{"x":-15.6,"y":3.1,"n":65},{"x":-15.6,"y":2.3,"n":65},{"x":-15.6,"y":1.6,"n":65},
{"x":-15.5,"y":6.5,"n":68},{"x":-15.5,"y":5.8,"n":68},{"x":-15.5,"y":5.1,"n":68},{"x":-15.5,"y":4.4,"n":68},{"x":-15.5,"y":3.6,"n":68},{"x":-15.5,"y":2.9,"n":68},{"x":-15.5,"y":2.1,"n":68},{"x":-15.5,"y":1.4,"n":68},
{"x":-18.35,"y":10.95,"n":8},{"x":-18.35,"y":9.05,"n":8},{"x":-18.35,"y":7.65,"n":8},{"x":-18.35,"y":6.3,"n":8},{"x":-18.35,"y":4.25,"n":8},
{"x":-18.25,"y":10.85,"n":8},{"x":-18.25,"y":9.5,"n":8},{"x":-18.25,"y":7.45,"n":8},{"x":-18.25,"y":6.1,"n":8},{"x":-18.25,"y":4.05,"n":8},
{"x":-18.15,"y":10.75,"n":10},{"x":-18.15,"y":9.35,"n":10},{"x":-18.15,"y":7.55,"n":10},{"x":-18.15,"y":5.5,"n":10},{"x":-18.15,"y":3.75,"n":10},
{"x":-18.05,"y":10.55,"n":10},{"x":-18.05,"y":9.25,"n":10},{"x":-18.05,"y":7.75,"n":10},{"x":-18.05,"y":6.25,"n":10},{"x":-18.05,"y":4.35,"n":10},
{"x":-17.95,"y":10.35,"n":12},{"x":-17.95,"y":9.4,"n":12},{"x":-17.95,"y":8.05,"n":12},{"x":-17.95,"y":6.55,"n":12},{"x":-17.95,"y":4.65,"n":12},{"x":-17.95,"y":3.35,"n":12},
{"x":-17.85,"y":10.25,"n":14},{"x":-17.85,"y":9.55,"n":14},{"x":-17.85,"y":8.45,"n":14},{"x":-17.85,"y":7.45,"n":14},{"x":-17.85,"y":5.55,"n":14},{"x":-17.85,"y":3.85,"n":14},{"x":-17.85,"y":3.05,"n":14},
{"x":-17.75,"y":10.05,"n":14},{"x":-17.75,"y":9.25,"n":14},{"x":-17.75,"y":8.75,"n":14},{"x":-17.75,"y":7.65,"n":14},{"x":-17.75,"y":5.85,"n":14},{"x":-17.75,"y":3.95,"n":14},{"x":-17.75,"y":3.25,"n":14},
{"x":-17.65,"y":9.85,"n":16},{"x":-17.65,"y":9.45,"n":16},{"x":-17.65,"y":8.8,"n":16},{"x":-17.65,"y":8.05,"n":16},{"x":-17.65,"y":6.45,"n":16},{"x":-17.65,"y":4.85,"n":16},{"x":-17.65,"y":3.05,"n":16},
{"x":-17.55,"y":9.7,"n":16},{"x":-17.55,"y":9.05,"n":16},{"x":-17.55,"y":7.95,"n":16},{"x":-17.55,"y":6.35,"n":16},{"x":-17.55,"y":4.55,"n":16},{"x":-17.55,"y":3.55,"n":16},{"x":-17.55,"y":2.95,"n":16},
{"x":-17.45,"y":9.5,"n":18},{"x":-17.45,"y":8.85,"n":18},{"x":-17.45,"y":7.65,"n":18},{"x":-17.45,"y":6.05,"n":18},{"x":-17.45,"y":4.25,"n":18},{"x":-17.45,"y":3.35,"n":18},
{"x":-17.35,"y":9.35,"n":20},{"x":-17.35,"y":8.65,"n":20},{"x":-17.35,"y":8.05,"n":20},{"x":-17.35,"y":6.55,"n":20},{"x":-17.35,"y":4.95,"n":20},{"x":-17.35,"y":3.05,"n":20},
{"x":-17.25,"y":9.15,"n":20},{"x":-17.25,"y":8.45,"n":20},{"x":-17.25,"y":7.15,"n":20},{"x":-17.25,"y":5.35,"n":20},{"x":-17.25,"y":3.65,"n":20},{"x":-17.25,"y":2.85,"n":20},
{"x":-17.15,"y":9.05,"n":22},{"x":-17.15,"y":8.25,"n":22},{"x":-17.15,"y":6.85,"n":22},{"x":-17.15,"y":5.05,"n":22},{"x":-17.15,"y":3.45,"n":22},
{"x":-17.05,"y":8.95,"n":25},{"x":-17.05,"y":8.05,"n":25},{"x":-17.05,"y":6.65,"n":25},{"x":-17.05,"y":4.85,"n":25},{"x":-17.05,"y":3.25,"n":25},
{"x":-16.95,"y":8.8,"n":28},{"x":-16.95,"y":7.95,"n":28},{"x":-16.95,"y":7.05,"n":28},{"x":-16.95,"y":5.55,"n":28},{"x":-16.95,"y":3.75,"n":28},
{"x":-16.85,"y":8.55,"n":30},{"x":-16.85,"y":7.65,"n":30},{"x":-16.85,"y":6.25,"n":30},{"x":-16.85,"y":4.35,"n":30},{"x":-16.85,"y":2.65,"n":30},
{"x":-16.75,"y":8.35,"n":32},{"x":-16.75,"y":7.45,"n":32},{"x":-16.75,"y":6.05,"n":32},{"x":-16.75,"y":4.15,"n":32},{"x":-16.75,"y":3.15,"n":32},
{"x":-16.65,"y":8.25,"n":35},{"x":-16.65,"y":7.25,"n":35},{"x":-16.65,"y":5.75,"n":35},{"x":-16.65,"y":3.85,"n":35},
{"x":-16.55,"y":8.05,"n":38},{"x":-16.55,"y":7.15,"n":38},{"x":-16.55,"y":5.55,"n":38},{"x":-16.55,"y":3.65,"n":38},
{"x":-16.45,"y":7.85,"n":42},{"x":-16.45,"y":6.95,"n":42},{"x":-16.45,"y":5.25,"n":42},{"x":-16.45,"y":3.35,"n":42},
{"x":-16.35,"y":7.65,"n":45},{"x":-16.35,"y":6.85,"n":45},{"x":-16.35,"y":5.05,"n":45},{"x":-16.35,"y":3.15,"n":45},
{"x":-16.25,"y":7.45,"n":48},{"x":-16.25,"y":6.55,"n":48},{"x":-16.25,"y":4.75,"n":48},{"x":-16.25,"y":2.95,"n":48},
{"x":-16.15,"y":7.25,"n":50},{"x":-16.15,"y":6.35,"n":50},{"x":-16.15,"y":4.55,"n":50},{"x":-16.15,"y":2.65,"n":50},
{"x":-16.05,"y":7.05,"n":55},{"x":-16.05,"y":6.15,"n":55},{"x":-16.05,"y":4.25,"n":55},{"x":-16.05,"y":2.45,"n":55},
{"x":-15.95,"y":6.85,"n":58},{"x":-15.95,"y":5.95,"n":58},{"x":-15.95,"y":4.05,"n":58},{"x":-15.95,"y":2.25,"n":58},
{"x":-15.85,"y":6.65,"n":60},{"x":-15.85,"y":5.75,"n":60},{"x":-15.85,"y":3.85,"n":60},{"x":-15.85,"y":2.05,"n":60},
{"x":-15.75,"y":6.55,"n":62},{"x":-15.75,"y":5.55,"n":62},{"x":-15.75,"y":3.65,"n":62},{"x":-15.75,"y":1.85,"n":62},
{"x":-15.65,"y":6.35,"n":65},{"x":-15.65,"y":5.25,"n":65},{"x":-15.65,"y":3.45,"n":65},{"x":-15.65,"y":1.65,"n":65},
{"x":-15.55,"y":6.15,"n":68},{"x":-15.55,"y":5.05,"n":68},{"x":-15.55,"y":3.25,"n":68},{"x":-15.55,"y":1.5,"n":68},
{"x":-9.9,"y":-5.75,"n":500},{"x":-9.8,"y":-5.75,"n":500},{"x":-9.7,"y":-5.9,"n":500},{"x":-9.6,"y":-6,"n":500},{"x":-9.5,"y":-6.05,"n":500},{"x":-9.4,"y":-6.2,"n":500},{"x":-9.3,"y":-6.25,"n":500},{"x":-9.2,"y":-6.4,"n":500},{"x":-9.1,"y":-6.45,"n":500},{"x":-9,"y":-6.6,"n":500},{"x":-8.9,"y":-6.7,"n":500},{"x":-8.8,"y":-6.8,"n":500},{"x":-8.7,"y":-6.9,"n":480},
{"x":-9.3,"y":-3.7,"n":380},{"x":-9.1,"y":-4.1,"n":320},{"x":-9.1,"y":-4.9,"n":400},{"x":-9.1,"y":-5.6,"n":440},{"x":-8.9,"y":-4.5,"n":400},{"x":-8.9,"y":-5,"n":340},{"x":-8.9,"y":-5.7,"n":380},{"x":-8.9,"y":-6.2,"n":320},{"x":-8.7,"y":-5.1,"n":385},{"x":-8.7,"y":-5.5,"n":320},{"x":-8.7,"y":-6,"n":400},{"x":-8.7,"y":-6.4,"n":350},{"x":-8.6,"y":-5.3,"n":400},{"x":-8.6,"y":-5.8,"n":350},{"x":-8.6,"y":-6.3,"n":310},{"x":-8.6,"y":-6.6,"n":380},{"x":-8.5,"y":-5.6,"n":330},{"x":-8.5,"y":-6,"n":400},{"x":-8.5,"y":-6.5,"n":340},{"x":-8.4,"y":-5.6,"n":380},{"x":-8.4,"y":-6.2,"n":340},{"x":-8.4,"y":-6.7,"n":400},{"x":-8.3,"y":-5.8,"n":390},{"x":-8.3,"y":-6.3,"n":310},{"x":-8.3,"y":-6.9,"n":370},{"x":-8.2,"y":-6,"n":370},{"x":-8.2,"y":-6.5,"n":400},{"x":-8.2,"y":-6.9,"n":320},{"x":-8.1,"y":-6.2,"n":340},{"x":-8.1,"y":-6.6,"n":380},{"x":-8.1,"y":-7.1,"n":310},{"x":-8,"y":-6.2,"n":390},{"x":-8,"y":-6.8,"n":330},{"x":-8,"y":-7.2,"n":390},{"x":-7.9,"y":-6.4,"n":400},{"x":-7.9,"y":-6.9,"n":310},{"x":-7.9,"y":-7.4,"n":350},{"x":-7.8,"y":-6.5,"n":380},{"x":-7.8,"y":-7,"n":350},{"x":-7.8,"y":-7.4,"n":320},{"x":-7.7,"y":-7.1,"n":400},{"x":-7.7,"y":-7.6,"n":340},{"x":-7.7,"y":-8,"n":300},{"x":-7.6,"y":-7,"n":370},{"x":-7.6,"y":-7.5,"n":310},{"x":-7.5,"y":-7.4,"n":350},{"x":-7.5,"y":-7.8,"n":380},{"x":-7.4,"y":-7.3,"n":250},{"x":-7.4,"y":-7.8,"n":350},{"x":-7.3,"y":-7.7,"n":380},{"x":-7.3,"y":-8.2,"n":330},{"x":-7.2,"y":-7.7,"n":330},{"x":-7.2,"y":-8.1,"n":250},{"x":-7.1,"y":-8,"n":360},{"x":-7.1,"y":-8.4,"n":340},{"x":-7,"y":-8.2,"n":390},{"x":-6.9,"y":-8.3,"n":340},{"x":-6.9,"y":-8.7,"n":370},{"x":-6.8,"y":-8.5,"n":370},{"x":-6.7,"y":-8.7,"n":250},{"x":-6.7,"y":-9,"n":340},{"x":-6.6,"y":-8.6,"n":370},{"x":-6.5,"y":-9,"n":400},{"x":-6.4,"y":-9.1,"n":350},{"x":-6.4,"y":-9.6,"n":310},{"x":-6.32,"y":-9.5,"n":245},
{"x":-6.2,"y":-9.56,"n":320},{"x":-6.15,"y":-9.39,"n":345},{"x":-6.08,"y":-9.34,"n":385},{"x":-5.86,"y":-9.56,"n":345},{"x":-6.18,"y":-9.84,"n":345},{"x":-6.26,"y":-10.06,"n":320},{"x":-6.23,"y":-10.13,"n":320},{"x":-6.19,"y":-10.18,"n":320},{"x":-6.43,"y":-10.24,"n":320},{"x":-6.1,"y":-10.35,"n":330},{"x":-6.03,"y":-10.52,"n":340},{"x":-6.35,"y":-10.47,"n":335},{"x":-6.29,"y":-10.52,"n":325},{"x":-6.1,"y":-10.75,"n":340},{"x":-6.08,"y":-10.92,"n":325},{"x":-6.02,"y":-11.09,"n":245},{"x":-5.71,"y":-11.09,"n":320},{"x":-5.71,"y":-11.15,"n":320},{"x":-5.59,"y":-10.98,"n":320},{"x":-5.62,"y":-11.31,"n":325},{"x":-5.47,"y":-11.31,"n":320},{"x":-5.76,"y":-11.37,"n":310},{"x":-5.67,"y":-11.49,"n":330},{"x":-6.06,"y":-11.54,"n":245},{"x":-6.14,"y":-11.6,"n":325},{"x":-5.71,"y":-11.83,"n":245},{"x":-6.35,"y":-11.94,"n":245},{"x":-6.39,"y":-12.05,"n":245},{"x":-6.23,"y":-12.34,"n":325},{"x":-6.23,"y":-12.45,"n":340},{"x":-6.43,"y":-12.51,"n":315},{"x":-6.29,"y":-12.58,"n":305},{"x":-6.21,"y":-12.58,"n":350},{"x":-6.27,"y":-12.68,"n":170},{"x":-5.72,"y":-12.51,"n":350},{"x":-5.71,"y":-12.61,"n":330},{"x":-6,"y":-12.61,"n":245},{"x":-6.14,"y":-12.67,"n":325},{"x":-6.1,"y":-12.67,"n":245},{"x":-6.08,"y":-12.79,"n":330},{"x":-5.72,"y":-12.79,"n":265},{"x":-5.98,"y":-12.9,"n":315},{"x":-5.94,"y":-12.9,"n":315},{"x":-5.84,"y":-12.84,"n":370},{"x":-6.37,"y":-13.01,"n":245},{"x":-6.06,"y":-13.01,"n":320},{"x":-5.68,"y":-12.95,"n":340},{"x":-5.78,"y":-13.07,"n":345},{"x":-5.62,"y":-13.07,"n":330},{"x":-5.62,"y":-13.18,"n":245},{"x":-5.49,"y":-13.12,"n":245},{"x":-6.27,"y":-13.35,"n":245},{"x":-5.68,"y":-13.35,"n":340},{"x":-5.41,"y":-13.47,"n":315},{"x":-6.14,"y":-13.58,"n":245},{"x":-5.9,"y":-13.69,"n":370},{"x":-5.59,"y":-13.81,"n":325},{"x":-5.23,"y":-13.58,"n":245},{"x":-5.12,"y":-13.52,"n":245},{"x":-5.12,"y":-13.64,"n":245},{"x":-6.02,"y":-14.26,"n":245}]},
"layer":[
{"data":{"name":"pink"},"mark":{"type":"rect","color":"#efa6ab"},"encoding":{"x":{"field":"x","type":"quantitative","scale":{"domain":[-20,-5.05]},"axis":{"orient":"bottom","values":[-20,-19.5,-19,-18.5,-18,-17.5,-17,-16.5,-16,-15.5,-15,-14.5,-14,-13.5,-13,-12.5,-12,-11.5,-11,-10.5,-10,-9.5,-9,-8.5,-8,-7.5,-7,-6.5,-6,-5.5],"labelExpr":"datum.value%2==0?replace(format(datum.value,'d'),'-','−'):''","labelOverlap":false,"labelBound":false,"labelFlush":false,"tickSize":-13,"tickWidth":3,"tickColor":"#333","domainColor":"#555","domainWidth":3,"grid":false,"labelFont":"Liberation Serif","labelFontSize":88,"labelColor":"#222","labelPadding":58,"title":"log₁₀(gₐᵧᵧ)","titleFont":"Liberation Serif","titleFontSize":106,"titleFontWeight":"normal","titleColor":"#222","titlePadding":42,"zindex":1}},"x2":{"field":"x2"},"y":{"field":"y","type":"quantitative","scale":{"domain":[-15,13.03]},"axis":{"orient":"left","values":[-15,-10,-5,0,5,10],"labelExpr":"datum.value==-15?'0':datum.value==-10?'10⁻¹⁰':datum.value==-5?'10⁻⁵':datum.value==0?'1':datum.value==5?'10⁵':'10¹⁰'","labelOverlap":false,"labelBound":false,"labelFlush":false,"labelLimit":500,"tickSize":-13,"tickWidth":3,"tickColor":"#333","domainColor":"#555","domainWidth":3,"grid":false,"labelFont":"Liberation Serif","labelFontSize":92,"labelColor":"#222","labelPadding":28,"title":["Ωₐ","——","Ωₘ"],"titleFont":"DejaVu Serif","titleFontSize":96,"titleFontWeight":"normal","titleColor":"#222","titleLineHeight":64,"titleX":-418,"titleY":985,"titleAlign":"center","titleBaseline":"middle","zindex":1}},"y2":{"field":"y2"}}},
{"data":{"name":"blue"},"mark":{"type":"rect","color":"#a1b5d4"},"encoding":{"x":{"field":"x","type":"quantitative","scale":{"domain":[-20,-5.05]},"axis":{"orient":"top","values":[-20,-19.5,-19,-18.5,-18,-17.5,-17,-16.5,-16,-15.5,-15,-14.5,-14,-13.5,-13,-12.5,-12,-11.5,-11,-10.5,-10,-9.5,-9,-8.5,-8,-7.5,-7,-6.5,-6,-5.5],"labels":false,"tickSize":-13,"tickWidth":3,"tickColor":"#333","domainColor":"#555","domainWidth":3,"grid":false,"title":null,"zindex":1}},"x2":{"field":"x2"},"y":{"field":"y","type":"quantitative","scale":{"domain":[-15,13.03]},"axis":null},"y2":{"field":"y2"}}},
{"data":{"name":"purple"},"mark":{"type":"rect","color":"#a18aa9"},"encoding":{"x":{"field":"x","type":"quantitative","scale":{"domain":[-20,-5.05]},"axis":null},"x2":{"field":"x2"},"y":{"field":"y","type":"quantitative","scale":{"domain":[-15,13.03]},"axis":null},"y2":{"field":"y2"}}},
{"data":{"name":"hline"},"mark":{"type":"rule","color":"#6f8fc2","strokeWidth":6},"encoding":{"y":{"field":"y","type":"quantitative","scale":{"domain":[-15,13.03]},"axis":null}}},
{"data":{"name":"vline"},"mark":{"type":"rule","color":"#d89a3c","strokeWidth":8},"encoding":{"x":{"field":"x","type":"quantitative","scale":{"domain":[-20,-5.05]},"axis":null}}},
{"data":{"name":"mid"},"mark":{"type":"square","size":676,"opacity":1},"encoding":{"x":{"field":"x","type":"quantitative","scale":{"domain":[-20,-5.05]},"axis":null},"y":{"field":"y","type":"quantitative","scale":{"domain":[-15,13.03]},"axis":null},"color":{"field":"n","type":"quantitative","legend":null,"scale":{"domain":[0,50,100,150,200,250,300,350,400,450,500],"range":["#ff1500","#ff5500","#ff9900","#ffee00","#66ff00","#00ff55","#00ffff","#0088ff","#0000ff","#8800ff","#ff00ff"]}}}},
{"data":{"name":"big"},"mark":{"type":"square","size":1764,"opacity":1},"encoding":{"x":{"field":"x","type":"quantitative","scale":{"domain":[-20,-5.05]},"axis":null},"y":{"field":"y","type":"quantitative","scale":{"domain":[-15,13.03]},"axis":null},"color":{"field":"n","type":"quantitative","legend":null,"scale":{"domain":[0,50,100,150,200,250,300,350,400,450,500],"range":["#ff1500","#ff5500","#ff9900","#ffee00","#66ff00","#00ff55","#00ffff","#0088ff","#0000ff","#8800ff","#ff00ff"]}}}},
{"data":{"name":"dot"},"mark":{"type":"square","size":196,"opacity":1},"encoding":{"x":{"field":"x","type":"quantitative","scale":{"domain":[-20,-5.05]},"axis":null},"y":{"field":"y","type":"quantitative","scale":{"domain":[-15,13.03]},"axis":null},"color":{"field":"n","type":"quantitative","legend":null,"scale":{"domain":[0,50,100,150,200,250,300,350,400,450,500],"range":["#ff1500","#ff5500","#ff9900","#ffee00","#66ff00","#00ff55","#00ffff","#0088ff","#0000ff","#8800ff","#ff00ff"]}}}},
{"data":{"name":"notes"},"mark":{"type":"text","font":"Liberation Sans","fontSize":71,"color":"#000","align":"center","baseline":"middle"},"encoding":{"x":{"field":"x","type":"quantitative","scale":{"domain":[-20,-5.05]},"axis":null},"y":{"field":"y","type":"quantitative","scale":{"domain":[-15,13.03]},"axis":null},"text":{"field":"t"}}},
{"data":{"name":"dot"},"mark":{"type":"point","filled":true,"size":0},"encoding":{"x":{"field":"x","type":"quantitative","scale":{"domain":[-20,-5.05]},"axis":null},"y":{"field":"y","type":"quantitative","scale":{"domain":[-15,13.03]},"axis":null},"color":{"field":"n","type":"quantitative","scale":{"domain":[0,50,100,150,200,250,300,350,400,450,500],"range":["#d4201f","#e07030","#e09a36","#c4bb40","#a6ba50","#7fb56f","#55a0a8","#4585c0","#4068d0","#4028b0","#7a1a85"]},"legend":{"type":"gradient","orient":"none","legendX":2787,"legendY":566,"direction":"vertical","gradientLength":790,"gradientThickness":51,"gradientStrokeColor":"#777","gradientStrokeWidth":2,"gradientOpacity":1,"values":[100,200,300,400,500],"labelFont":"Liberation Sans","labelFontSize":80,"labelColor":"#111","labelOffset":32,"labelOverlap":false,"tickCount":5,"title":"# of axions","titleFont":"Liberation Sans","titleFontSize":72,"titleFontWeight":"normal","titleColor":"#000","titleAnchor":"end","titleLimit":1000,"titlePadding":88,"encode":{"labels":{"update":{"baseline":{"value":"middle"}}}}}}}}
],
"resolve":{"axis":{"x":"independent","y":"independent"},"scale":{"color":"independent"}},
"config":{"view":{"stroke":null}}}
